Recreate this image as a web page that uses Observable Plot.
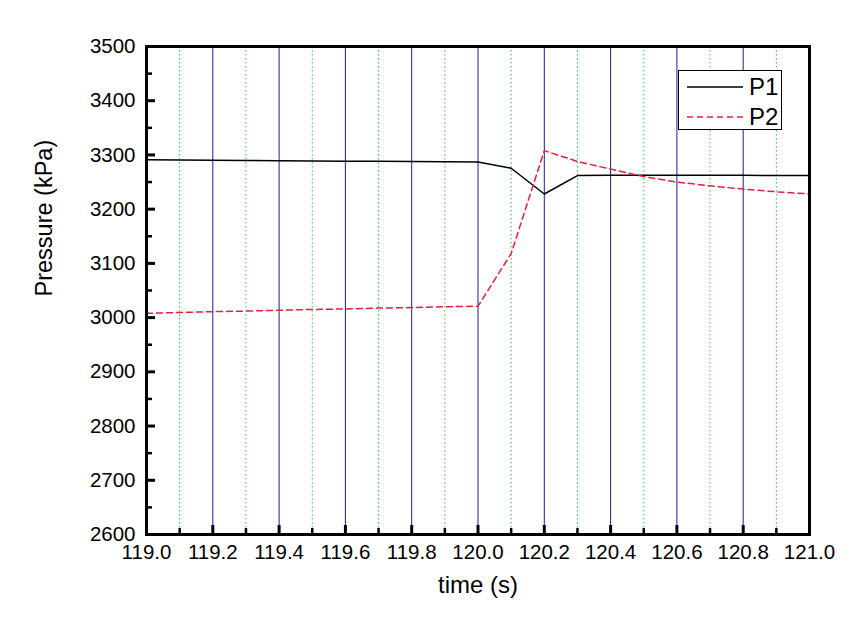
<!DOCTYPE html>
<html>
<head>
<meta charset="utf-8">
<script src="https://cdn.jsdelivr.net/npm/d3@7"></script>
<script src="https://cdn.jsdelivr.net/npm/@observablehq/plot@0.6"></script>
<style>
  body { margin: 0; background: #fff; }
  #wrap { position: relative; width: 849px; height: 637px; font-family: "Liberation Sans", Arial, sans-serif; }
  #legend { position: absolute; left: 678px; top: 70px; width: 104px; height: 60px; border: 1px solid #000; background: #fff; box-sizing: border-box; }
  .row { position: absolute; left: 0; height: 28px; display: flex; align-items: center; }
  .row span { font-size: 24px; margin-left: 2px; line-height: 1; }
</style>
</head>
<body>
<div id="wrap">
  <div id="chart"></div>
  <div id="legend">
    <div class="row" style="top:2px"><svg width="65" height="10" style="margin-left:3px"><line x1="5" x2="61" y1="5" y2="5" stroke="#000" stroke-width="1.5"/></svg><span>P1</span></div>
    <div class="row" style="top:32px"><svg width="65" height="10" style="margin-left:3px"><line x1="5" x2="61" y1="5" y2="5" stroke="#e81e3c" stroke-width="1.5" stroke-dasharray="6,4"/></svg><span>P2</span></div>
  </div>
</div>
<script>
const time = [119.0,119.1,119.2,119.3,119.4,119.5,119.6,119.7,119.8,119.9,120.0,120.1,120.2,120.3,120.4,120.5,120.6,120.7,120.8,120.9,121.0];
const p1 = [3291,3290.6,3290.2,3289.8,3289.4,3289,3288.6,3288.2,3287.8,3287.4,3287,3275.5,3228,3262,3262.5,3262.5,3262.5,3262.5,3262.5,3262,3262];
const p2 = [3008,3009.5,3011,3012,3013.5,3015,3016,3017.5,3018.5,3020,3021,3118,3308,3288,3274,3260,3250,3243,3237,3232,3228];
const xMajor = [119.0,119.2,119.4,119.6,119.8,120.0,120.2,120.4,120.6,120.8,121.0];
const xMinor = [119.1,119.3,119.5,119.7,119.9,120.1,120.3,120.5,120.7,120.9];
const xGridBlue = [119.2,119.4,119.6,119.8,120.0,120.2,120.4,120.6,120.8];
const yMajor = [2600,2700,2800,2900,3000,3100,3200,3300,3400,3500];
const yMinor = [2650,2750,2850,2950,3050,3150,3250,3350,3450];

const W = 849, H = 637, mT = 46, mR = 40, mB = 103, mL = 146;
const pw = W - mL - mR, ph = H - mT - mB;

const rows1 = time.map((t, i) => ({t, v: p1[i]}));
const rows2 = time.map((t, i) => ({t, v: p2[i]}));

const chart = Plot.plot({
  width: W, height: H,
  marginTop: mT, marginRight: mR, marginBottom: mB, marginLeft: mL,
  x: {domain: [119, 121]},
  y: {domain: [2600, 3500]},
  style: {fontFamily: "'Liberation Sans', Arial, sans-serif", color: "#000", background: "#fff"},
  marks: [
    Plot.ruleX(xMinor, {stroke: "#22cc22", strokeWidth: 1, strokeDasharray: "1.5,2.5"}),
    Plot.ruleX(xGridBlue, {stroke: "#1a1aa6", strokeWidth: 1}),
    Plot.tickX(xMajor, {x: d => d, insetTop: ph - 9, stroke: "#000", strokeWidth: 3}),
    Plot.tickX(xMinor, {x: d => d, insetTop: ph - 6, stroke: "#000", strokeWidth: 2.5}),
    Plot.tickY(yMajor, {y: d => d, insetRight: pw - 9, stroke: "#000", strokeWidth: 3}),
    Plot.tickY(yMinor, {y: d => d, insetRight: pw - 6, stroke: "#000", strokeWidth: 2.5}),
    Plot.line(rows1, {x: "t", y: "v", stroke: "#000", strokeWidth: 1.5}),
    Plot.line(rows2, {x: "t", y: "v", stroke: "#e81e3c", strokeWidth: 1.5, strokeDasharray: "6,4"}),
    Plot.frame({stroke: "#000", strokeWidth: 3}),
    Plot.axisX(xMajor, {tickSize: 0, tickPadding: 10, tickFormat: d => d.toFixed(1), fontSize: 20.5, label: null}),
    Plot.axisY(yMajor, {tickSize: 0, tickPadding: 11, tickFormat: d => String(d), fontSize: 20.5, label: null}),
    Plot.text(["time (s)"], {frameAnchor: "bottom", dy: 58, fontSize: 24, fill: "#000"}),
    Plot.text(["Pressure (kPa)"], {frameAnchor: "left", dx: -102, dy: 6, rotate: -90, fontSize: 23.5, fill: "#000"})
  ]
});
document.getElementById("chart").appendChild(chart);
</script>
</body>
</html>
